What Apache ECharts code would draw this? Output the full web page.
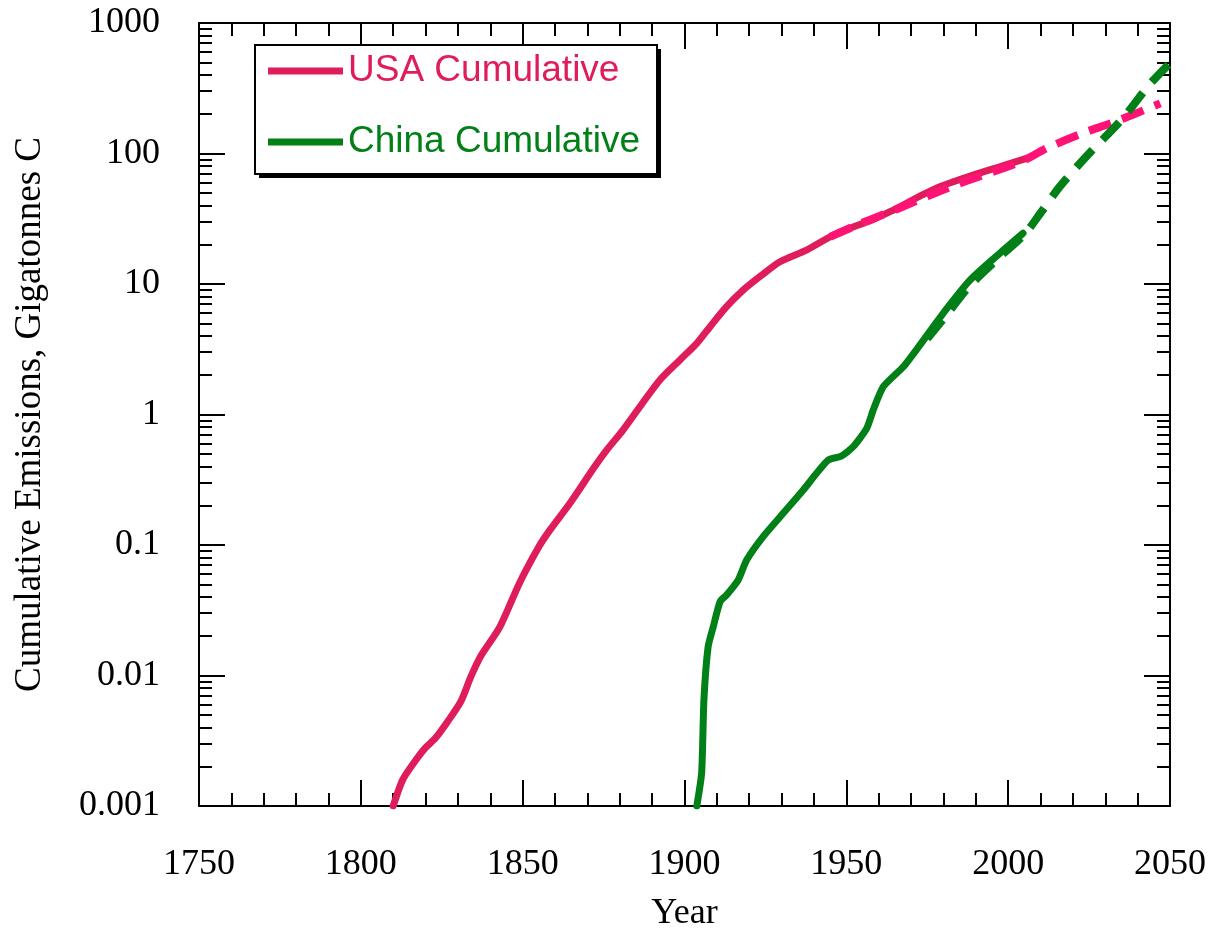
<!DOCTYPE html>
<html>
<head>
<meta charset="utf-8">
<script src="https://cdn.jsdelivr.net/npm/echarts@6/dist/echarts.min.js"></script>
<style>
  html, body { margin: 0; padding: 0; background: #fff; }
  #emissionsChart { width: 1213px; height: 936px; }
</style>
</head>
<body>
<div id="emissionsChart"></div>
<script>
// Cumulative emissions, USA vs China (Gigatonnes C)

var usaYears = [1810, 1813, 1817, 1820, 1823, 1827, 1831, 1834, 1837, 1843, 1849, 1855, 1858.4, 1864.6, 1872, 1876,
    1881, 1887, 1892.4, 1898.6, 1903.8, 1907.9, 1913, 1918.2, 1923.3, 1929.5, 1937.7, 1946, 1954.2, 1958.3,
    1963.5, 1968.6, 1973, 1978.9, 1989.2, 1997.4, 2005.7];
var usaValues = [0.001, 0.0016, 0.00225, 0.0028, 0.0033, 0.0045, 0.0064, 0.0098, 0.014, 0.0237, 0.051, 0.097, 0.13, 0.209, 0.39, 0.535,
    0.76, 1.22, 1.84, 2.62, 3.51, 4.71, 6.7, 9.0, 11.4, 14.8, 18.2, 23.7, 28.6, 31.2,
    35.8, 41.5, 47.5, 55.7, 68.4, 79.2, 91.9];

var usaProjYears = [1945, 1955, 1965, 1975, 1985, 1995, 2005, 2012, 2023, 2033, 2047];
var usaProjValues = [23, 29.5, 37, 47, 59, 72, 89, 110, 143, 175, 242];

var chinaYears = [1903.8, 1905.3, 1906, 1907.3, 1908.9, 1911, 1913, 1916.6, 1919.2, 1924.3, 1930.5, 1936.7, 1940.8, 1944.4,
    1948.5, 1952.1, 1956.3, 1958.3, 1961.4, 1967.6, 1972.7, 1979.9, 1988.2, 1997.4, 2004.6];
var chinaValues = [0.001, 0.0018, 0.0065, 0.0166, 0.0237, 0.0368, 0.0414, 0.054, 0.0767, 0.116, 0.175, 0.264, 0.354, 0.448,
    0.481, 0.566, 0.783, 1.08, 1.63, 2.32, 3.4, 5.96, 10.7, 17.2, 24.5];

var chinaProjYears = [1975, 1980, 1988, 1997, 2005, 2010, 2016, 2025, 2035, 2044, 2052];
var chinaProjValues = [3.8, 5.4, 9.6, 15.8, 24, 35, 56, 100, 181, 345, 552];

var yearTicks = [1750, 1800, 1850, 1900, 1950, 2000, 2050];
var decadeTicks = [0.001, 0.01, 0.1, 1, 10, 100, 1000];

// minor ticks of the log axis: 2..9 within each decade
var minorTicks = [];
decadeTicks.slice(0, -1).forEach(function (d) {
    for (var m = 2; m <= 9; m++) minorTicks.push(+(d * m).toPrecision(3));
});

function pairs(xs, ys) {
    return xs.map(function (x, i) { return [x, ys[i]]; });
}

var usaColor = '#e01d5b';
var usaProjColor = '#ff1476';
var chinaColor = '#008017';

var serif = '"Liberation Serif", "Times New Roman", serif';
var tickLine = { color: '#000', width: 2 };

function xAxisOf(pos, showLabels) {
    return {
        type: 'value',
        position: pos,
        min: yearTicks[0],
        max: yearTicks[yearTicks.length - 1],
        interval: 50,
        name: showLabels ? 'Year' : '',
        nameLocation: 'middle',
        nameGap: 90,
        nameTextStyle: { fontFamily: serif, fontSize: 36, color: '#000' },
        axisLine: { show: true, onZero: false, lineStyle: tickLine },
        axisTick: { show: true, inside: true, length: 26, lineStyle: tickLine },
        minorTick: { show: true, splitNumber: 5, length: 13, lineStyle: tickLine },
        axisLabel: {
            show: showLabels, margin: 41, fontFamily: serif, fontSize: 36, color: '#000',
            formatter: function (v) { return String(v); }
        },
        splitLine: { show: false },
        minorSplitLine: { show: false }
    };
}

function yAxisOf(pos, showLabels) {
    return {
        type: 'log',
        logBase: 10,
        position: pos,
        min: decadeTicks[0],
        max: decadeTicks[decadeTicks.length - 1],
        interval: 1,
        name: showLabels ? 'Cumulative Emissions, Gigatonnes C' : '',
        nameLocation: 'middle',
        nameGap: 150,
        nameTextStyle: { fontFamily: serif, fontSize: 37, color: '#000' },
        axisLine: { show: true, lineStyle: tickLine },
        axisTick: { show: true, inside: true, length: 26, lineStyle: tickLine },
        axisLabel: {
            show: showLabels, margin: 39, fontFamily: serif, fontSize: 36, color: '#000',
            formatter: function (v) { return String(+(+v).toPrecision(6)); }
        },
        splitLine: { show: false }
    };
}

function yMinorAxisOf(pos) {
    return {
        type: 'log',
        logBase: 10,
        position: pos,
        min: decadeTicks[0],
        max: decadeTicks[decadeTicks.length - 1],
        axisLine: { show: false },
        axisTick: { show: true, inside: true, length: 13, lineStyle: tickLine, customValues: minorTicks },
        axisLabel: { show: false },
        splitLine: { show: false }
    };
}

var chart = echarts.init(document.getElementById('emissionsChart'));
chart.setOption({
    animation: false,
    backgroundColor: '#fff',
    grid: { left: 199, right: 43, top: 23, bottom: 130, containLabel: false, outerBoundsMode: 'none' },
    // legend frame with its hard black drop shadow
    graphic: [
        { type: 'rect', left: 259, top: 49, z: 1, shape: { width: 402, height: 129 }, style: { fill: '#000' } },
        { type: 'rect', left: 254, top: 44, z: 2, shape: { width: 402, height: 129 }, style: { fill: '#fff', stroke: '#000', lineWidth: 2 } }
    ],
    legend: {
        left: 254,
        top: 44,
        z: 10,
        orient: 'vertical',
        padding: [5, 13, 9, 14],
        itemGap: 27,
        itemWidth: 75,
        itemHeight: 7,
        icon: 'path://M0 0H75V7H0Z',
        selectedMode: false,
        textStyle: { fontFamily: '"Liberation Sans", Arial, sans-serif', fontSize: 37, lineHeight: 44 },
        data: [
            { name: 'USA Cumulative', textStyle: { color: usaColor } },
            { name: 'China Cumulative', textStyle: { color: chinaColor } }
        ]
    },
    xAxis: [xAxisOf('bottom', true), xAxisOf('top', false)],
    yAxis: [yAxisOf('left', true), yAxisOf('right', false), yMinorAxisOf('left'), yMinorAxisOf('right')],
    series: [
        {
            name: 'USA Cumulative',
            type: 'line',
            showSymbol: false,
            symbol: 'none',
            smooth: 0.25,
            data: pairs(usaYears, usaValues),
            lineStyle: { color: usaColor, width: 7, cap: 'round', join: 'round' },
            itemStyle: { color: usaColor }
        },
        {
            name: 'China Cumulative',
            type: 'line',
            showSymbol: false,
            symbol: 'none',
            smooth: 0.2,
            data: pairs(chinaYears, chinaValues),
            lineStyle: { color: chinaColor, width: 7, cap: 'round', join: 'round' },
            itemStyle: { color: chinaColor }
        },
        {
            name: 'USA Projection',
            type: 'line',
            showSymbol: false,
            symbol: 'none',
            smooth: 0.3,
            data: pairs(usaProjYears, usaProjValues),
            lineStyle: { color: usaProjColor, width: 8, type: [23, 12] },
            itemStyle: { color: usaProjColor }
        },
        {
            name: 'China Projection',
            type: 'line',
            showSymbol: false,
            symbol: 'none',
            smooth: 0.3,
            clip: false,
            data: pairs(chinaProjYears, chinaProjValues),
            lineStyle: { color: chinaColor, width: 8, type: [24, 14] },
            itemStyle: { color: chinaColor }
        }
    ]
});
</script>
</body>
</html>
